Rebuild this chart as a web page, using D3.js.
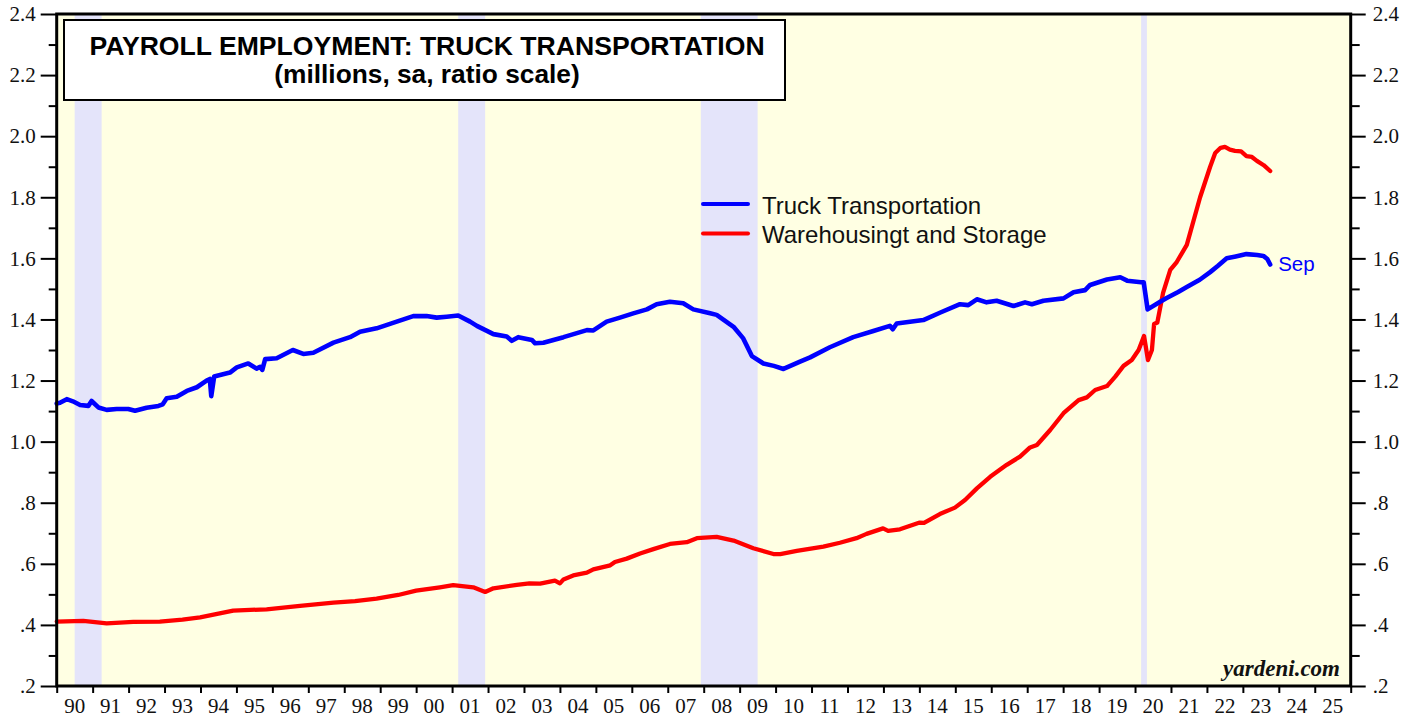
<!DOCTYPE html>
<html>
<head>
<meta charset="utf-8">
<script src="https://cdn.jsdelivr.net/npm/d3@7"></script>
<style>
  html, body { margin: 0; padding: 0; background: #fff; }
  svg { display: block; }
  .tick-label { font-family: "Liberation Serif", "Times New Roman", serif; font-size: 21px; fill: #111; }
</style>
</head>
<body>
<svg id="chart" width="1419" height="719"></svg>
<script>
// Truck transportation payrolls (millions)
const truckYears = [1990.00, 1990.09, 1990.28, 1990.45, 1990.65, 1990.88, 1990.97, 1991.16, 1991.39, 1991.67,
  1991.99, 1992.18, 1992.50, 1992.83, 1992.95, 1993.06, 1993.34, 1993.62, 1993.90, 1994.17,
  1994.26, 1994.30, 1994.38, 1994.82, 1995.01, 1995.33, 1995.56, 1995.66, 1995.72, 1995.80,
  1996.12, 1996.57, 1996.86, 1997.14, 1997.70, 1998.16, 1998.44, 1998.90, 1999.46, 1999.92,
  2000.29, 2000.57, 2000.85, 2001.17, 2001.50, 2001.69, 2002.15, 2002.52, 2002.66, 2002.84,
  2003.22, 2003.31, 2003.54, 2004.10, 2004.75, 2004.93, 2005.30, 2005.67, 2006.04, 2006.42,
  2006.69, 2007.06, 2007.43, 2007.71, 2008.18, 2008.36, 2008.83, 2009.10, 2009.34, 2009.66,
  2009.95, 2010.22, 2010.68, 2010.96, 2011.51, 2012.16, 2012.72, 2013.18, 2013.26, 2013.37,
  2014.11, 2014.57, 2015.13, 2015.36, 2015.60, 2015.87, 2016.15, 2016.62, 2016.94, 2017.13,
  2017.45, 2018.01, 2018.29, 2018.61, 2018.75, 2019.22, 2019.59, 2019.78, 2020.17, 2020.24,
  2020.35, 2020.70, 2020.88, 2021.20, 2021.44, 2021.80, 2022.09, 2022.30, 2022.55, 2022.80,
  2023.10, 2023.40, 2023.57, 2023.68, 2023.76];
const truckValues = [1.125, 1.127, 1.139, 1.132, 1.120, 1.117, 1.133, 1.112, 1.104, 1.107,
  1.107, 1.101, 1.111, 1.117, 1.122, 1.142, 1.147, 1.166, 1.178, 1.200,
  1.205, 1.149, 1.213, 1.226, 1.243, 1.256, 1.239, 1.245, 1.235, 1.270,
  1.273, 1.300, 1.287, 1.291, 1.324, 1.342, 1.360, 1.371, 1.393, 1.411,
  1.411, 1.406, 1.409, 1.413, 1.393, 1.379, 1.352, 1.344, 1.330, 1.342,
  1.333, 1.322, 1.324, 1.342, 1.365, 1.364, 1.393, 1.406, 1.420, 1.433,
  1.450, 1.458, 1.453, 1.433, 1.420, 1.415, 1.376, 1.338, 1.280, 1.256,
  1.248, 1.238, 1.262, 1.276, 1.309, 1.342, 1.362, 1.379, 1.368, 1.387,
  1.398, 1.422, 1.450, 1.447, 1.466, 1.456, 1.461, 1.444, 1.456, 1.450,
  1.461, 1.469, 1.489, 1.496, 1.513, 1.531, 1.538, 1.527, 1.522, 1.522,
  1.433, 1.458, 1.470, 1.490, 1.506, 1.530, 1.555, 1.575, 1.600, 1.606,
  1.614, 1.611, 1.608, 1.598, 1.580];

// Warehousing and storage payrolls (millions)
const whYears = [1990.00, 1990.74, 1991.00, 1991.39, 1992.13, 1992.87, 1993.50, 1993.99, 1994.50, 1994.91,
  1995.84, 1996.77, 1997.70, 1998.30, 1998.90, 1999.50, 2000.00, 2000.66, 2001.03, 2001.59,
  2001.92, 2002.15, 2002.80, 2003.15, 2003.45, 2003.86, 2004.00, 2004.10, 2004.37, 2004.75,
  2004.93, 2005.40, 2005.53, 2005.86, 2006.23, 2006.60, 2007.06, 2007.53, 2007.81, 2008.36,
  2008.83, 2009.38, 2009.94, 2010.13, 2010.59, 2011.33, 2011.79, 2012.25, 2012.53, 2012.99,
  2013.13, 2013.46, 2014.01, 2014.13, 2014.57, 2014.99, 2015.27, 2015.60, 2015.97, 2016.43,
  2016.80, 2017.08, 2017.27, 2017.64, 2018.01, 2018.43, 2018.66, 2018.89, 2019.22, 2019.45,
  2019.68, 2019.91, 2020.10, 2020.25, 2020.36, 2020.47, 2020.53, 2020.62, 2020.78, 2020.98,
  2021.16, 2021.44, 2021.81, 2022.09, 2022.23, 2022.38, 2022.50, 2022.64, 2022.78, 2022.95,
  2023.10, 2023.25, 2023.39, 2023.58, 2023.76];
const whValues = [0.411, 0.413, 0.410, 0.405, 0.410, 0.411, 0.417, 0.425, 0.437, 0.447,
  0.451, 0.462, 0.473, 0.478, 0.486, 0.498, 0.512, 0.523, 0.530, 0.523,
  0.508, 0.520, 0.531, 0.536, 0.535, 0.545, 0.536, 0.549, 0.562, 0.571,
  0.582, 0.595, 0.606, 0.617, 0.634, 0.648, 0.665, 0.671, 0.684, 0.688,
  0.676, 0.651, 0.632, 0.632, 0.642, 0.656, 0.669, 0.684, 0.698, 0.716,
  0.708, 0.713, 0.735, 0.734, 0.763, 0.784, 0.809, 0.847, 0.885, 0.924,
  0.951, 0.981, 0.989, 1.038, 1.093, 1.136, 1.145, 1.169, 1.182, 1.213,
  1.248, 1.267, 1.300, 1.346, 1.267, 1.300, 1.385, 1.390, 1.487, 1.562,
  1.588, 1.644, 1.800, 1.900, 1.945, 1.962, 1.965, 1.956, 1.952, 1.950,
  1.935, 1.932, 1.919, 1.905, 1.886];

// Recessions (start, end)
const recessionStarts = [1990.50, 2001.17, 2007.92, 2020.17];
const recessionEnds = [1991.25, 2001.92, 2009.50, 2020.33];

const yearLabels = d3.range(1990, 2026).map(yr => String(yr % 100).padStart(2, '0'));
const yMajorTicks = [0.2, 0.4, 0.6, 0.8, 1.0, 1.2, 1.4, 1.6, 1.8, 2.0, 2.2, 2.4];

const seriesNames = ['Truck Transportation', 'Warehousingt and Storage'];
const seriesColors = ['#0000ff', '#ff0000'];

const fmtY = v => v < 1 ? d3.format('.1f')(v).replace(/^0/, '') : d3.format('.1f')(v);

const svg = d3.select('#chart');
const plotL = 56.7, plotR = 1350.7, plotT = 14, plotB = 686;

const x = d3.scaleLinear().domain([1990, 2026]).range([plotL, plotR]);
const y = d3.scaleLinear().domain([0.2, 2.4]).range([plotB, plotT]);

// plot background
svg.append('rect')
  .attr('x', plotL).attr('y', plotT)
  .attr('width', plotR - plotL).attr('height', plotB - plotT)
  .attr('fill', '#ffffe3');

// recession bands
svg.append('g').selectAll('rect')
  .data(recessionStarts.map((s, i) => [s, recessionEnds[i]]))
  .join('rect')
  .attr('x', d => x(d[0]))
  .attr('y', plotT)
  .attr('width', d => x(d[1]) - x(d[0]))
  .attr('height', plotB - plotT)
  .attr('fill', '#e4e4fa');

// series lines
const line = d3.line().x(d => x(d[0])).y(d => y(d[1]));
const truckData = truckYears.map((t, i) => [t, truckValues[i]]);
const whData = whYears.map((t, i) => [t, whValues[i]]);

svg.append('path')
  .datum(whData)
  .attr('d', line)
  .attr('fill', 'none')
  .attr('stroke', seriesColors[1])
  .attr('stroke-width', 4.3)
  .attr('stroke-linejoin', 'round')
  .attr('stroke-linecap', 'round');

svg.append('path')
  .datum(truckData)
  .attr('d', line)
  .attr('fill', 'none')
  .attr('stroke', seriesColors[0])
  .attr('stroke-width', 4.6)
  .attr('stroke-linejoin', 'round')
  .attr('stroke-linecap', 'round');

// "Sep" label at the end of truck line
const lastT = truckData[truckData.length - 1];
svg.append('text')
  .attr('x', x(lastT[0]) + 8)
  .attr('y', y(lastT[1]) + 7)
  .attr('font-family', 'Liberation Sans, Arial, sans-serif')
  .attr('font-size', 20.5)
  .attr('fill', '#0000ff')
  .text('Sep');

// legend
const legend = svg.append('g').attr('transform', 'translate(703,204)');
seriesNames.forEach((name, i) => {
  const g = legend.append('g').attr('transform', `translate(0,${i * 29.5})`);
  g.append('line')
    .attr('x1', 0).attr('x2', 45)
    .attr('stroke', seriesColors[i])
    .attr('stroke-width', 4)
    .attr('stroke-linecap', 'round');
  g.append('text')
    .attr('x', 59).attr('y', 9.5)
    .attr('font-family', 'Liberation Sans, Arial, sans-serif')
    .attr('font-size', 24)
    .attr('fill', '#111')
    .text(name);
});

// title box
const titleBox = svg.append('g');
titleBox.append('rect')
  .attr('x', 64).attr('y', 20)
  .attr('width', 721).attr('height', 80)
  .attr('fill', '#fff')
  .attr('stroke', '#000')
  .attr('stroke-width', 2);
titleBox.append('text')
  .attr('x', 427).attr('y', 55)
  .attr('text-anchor', 'middle')
  .attr('font-family', 'Liberation Sans, Arial, sans-serif')
  .attr('font-weight', 'bold')
  .attr('font-size', 26.6)
  .text('PAYROLL EMPLOYMENT: TRUCK TRANSPORTATION');
titleBox.append('text')
  .attr('x', 427).attr('y', 83)
  .attr('text-anchor', 'middle')
  .attr('font-family', 'Liberation Sans, Arial, sans-serif')
  .attr('font-weight', 'bold')
  .attr('font-size', 26.3)
  .text('(millions, sa, ratio scale)');

// watermark
svg.append('text')
  .attr('x', 1340).attr('y', 676)
  .attr('text-anchor', 'end')
  .attr('font-family', 'Liberation Serif, Times New Roman, serif')
  .attr('font-weight', 'bold')
  .attr('font-style', 'italic')
  .attr('font-size', 23)
  .attr('fill', '#111')
  .text('yardeni.com');

// y axes: major ticks with labels, minor ticks between
const yMinor = d3.range(0.3, 2.4, 0.2);
const yAxisL = d3.axisLeft(y).tickValues(yMajorTicks).tickSize(16).tickPadding(5).tickFormat(fmtY);
const yAxisR = d3.axisRight(y).tickValues(yMajorTicks).tickSize(15).tickPadding(7).tickFormat(fmtY);

svg.append('g').attr('transform', `translate(${plotL},0)`).call(yAxisL);
svg.append('g').attr('transform', `translate(${plotR},0)`).call(yAxisR);
svg.append('g').attr('transform', `translate(${plotL},0)`)
  .call(d3.axisLeft(y).tickValues(yMinor).tickSize(8).tickFormat(''));
svg.append('g').attr('transform', `translate(${plotR},0)`)
  .call(d3.axisRight(y).tickValues(yMinor).tickSize(9).tickFormat(''));

// x axis: ticks at year boundaries, labels mid-year
const xAxis = d3.axisBottom(x).tickValues(d3.range(1990, 2027)).tickSize(7).tickFormat('');
svg.append('g').attr('transform', `translate(0,${plotB})`).call(xAxis);
svg.append('g').selectAll('text')
  .data(yearLabels)
  .join('text')
  .attr('class', 'tick-label')
  .attr('x', (d, i) => x(1990 + i + 0.5))
  .attr('y', 713)
  .attr('text-anchor', 'middle')
  .text(d => d);

svg.selectAll('.domain').remove();
svg.selectAll('.tick line').attr('stroke', '#000').attr('stroke-width', 2);
svg.selectAll('.tick text')
  .attr('font-family', 'Liberation Serif, Times New Roman, serif')
  .attr('font-size', 21)
  .attr('fill', '#111');

// frame
svg.append('rect')
  .attr('x', plotL).attr('y', plotT)
  .attr('width', plotR - plotL).attr('height', plotB - plotT)
  .attr('fill', 'none')
  .attr('stroke', '#000')
  .attr('stroke-width', 3);
</script>
</body>
</html>
